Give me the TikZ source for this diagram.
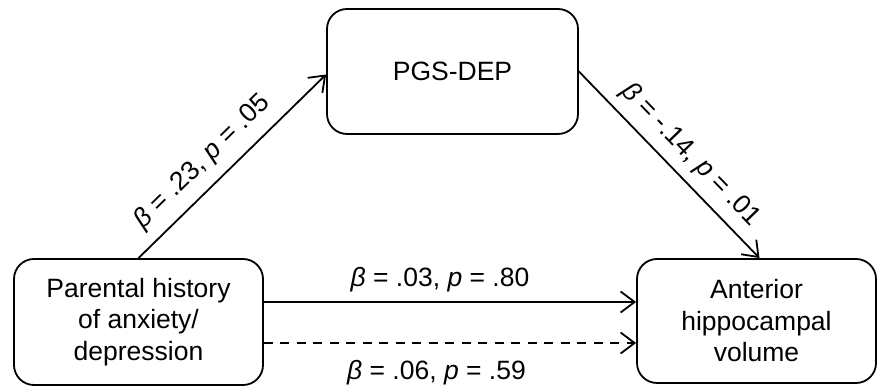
\documentclass[tikz,border=0pt]{standalone}
\usepackage{fontspec}
\setmainfont{Liberation Sans}
\usetikzlibrary{arrows.meta}
\begin{document}
\begin{tikzpicture}[x=1pt,y=1pt,
  every node/.style={font=\fontsize{26.5}{31.5}\selectfont},
  box/.style={draw,line width=1.8pt,rounded corners=20pt,align=center,inner sep=0pt},
  conn/.style={line width=1.8pt,-{Straight Barb[length=14pt,width=21pt]}},
  lbl/.style={inner sep=0pt,anchor=base}]
\useasboundingbox (0,0) rectangle (878,390);
\node[box,minimum width=251pt,minimum height=125pt] (pgs) at (452.5,318.5) {PGS-DEP};
\node[box,minimum width=249pt,minimum height=126pt] (par) at (138.5,68) {Parental history\\of anxiety/\\depression};
\node[box,minimum width=239pt,minimum height=124pt] (ahv) at (756.5,69) {Anterior\\hippocampal\\volume};
\draw[conn] (par.north) -- node[inner sep=11pt,pos=0.43,above,sloped] {\textit{β} = .23, \textit{p} = .05} ([yshift=-3pt]pgs.west);
\draw[conn] (pgs.east) -- node[inner sep=9pt,pos=0.53,above,sloped] {\textit{β} = -.14, \textit{p} = .01} ([xshift=3pt]ahv.north);
\draw[conn] ([yshift=20pt]par.east) -- node[lbl,xshift=-10pt,yshift=15pt] {\textit{β} = .03, \textit{p} = .80} ([yshift=20pt]par.east -| ahv.west);
\draw[conn,dash pattern=on 9pt off 7.5pt] ([yshift=-21pt]par.east) -- node[lbl,xshift=-13.5pt,yshift=-37pt] {\textit{β} = .06, \textit{p} = .59} ([yshift=-21pt]par.east -| ahv.west);
\end{tikzpicture}
\end{document}
